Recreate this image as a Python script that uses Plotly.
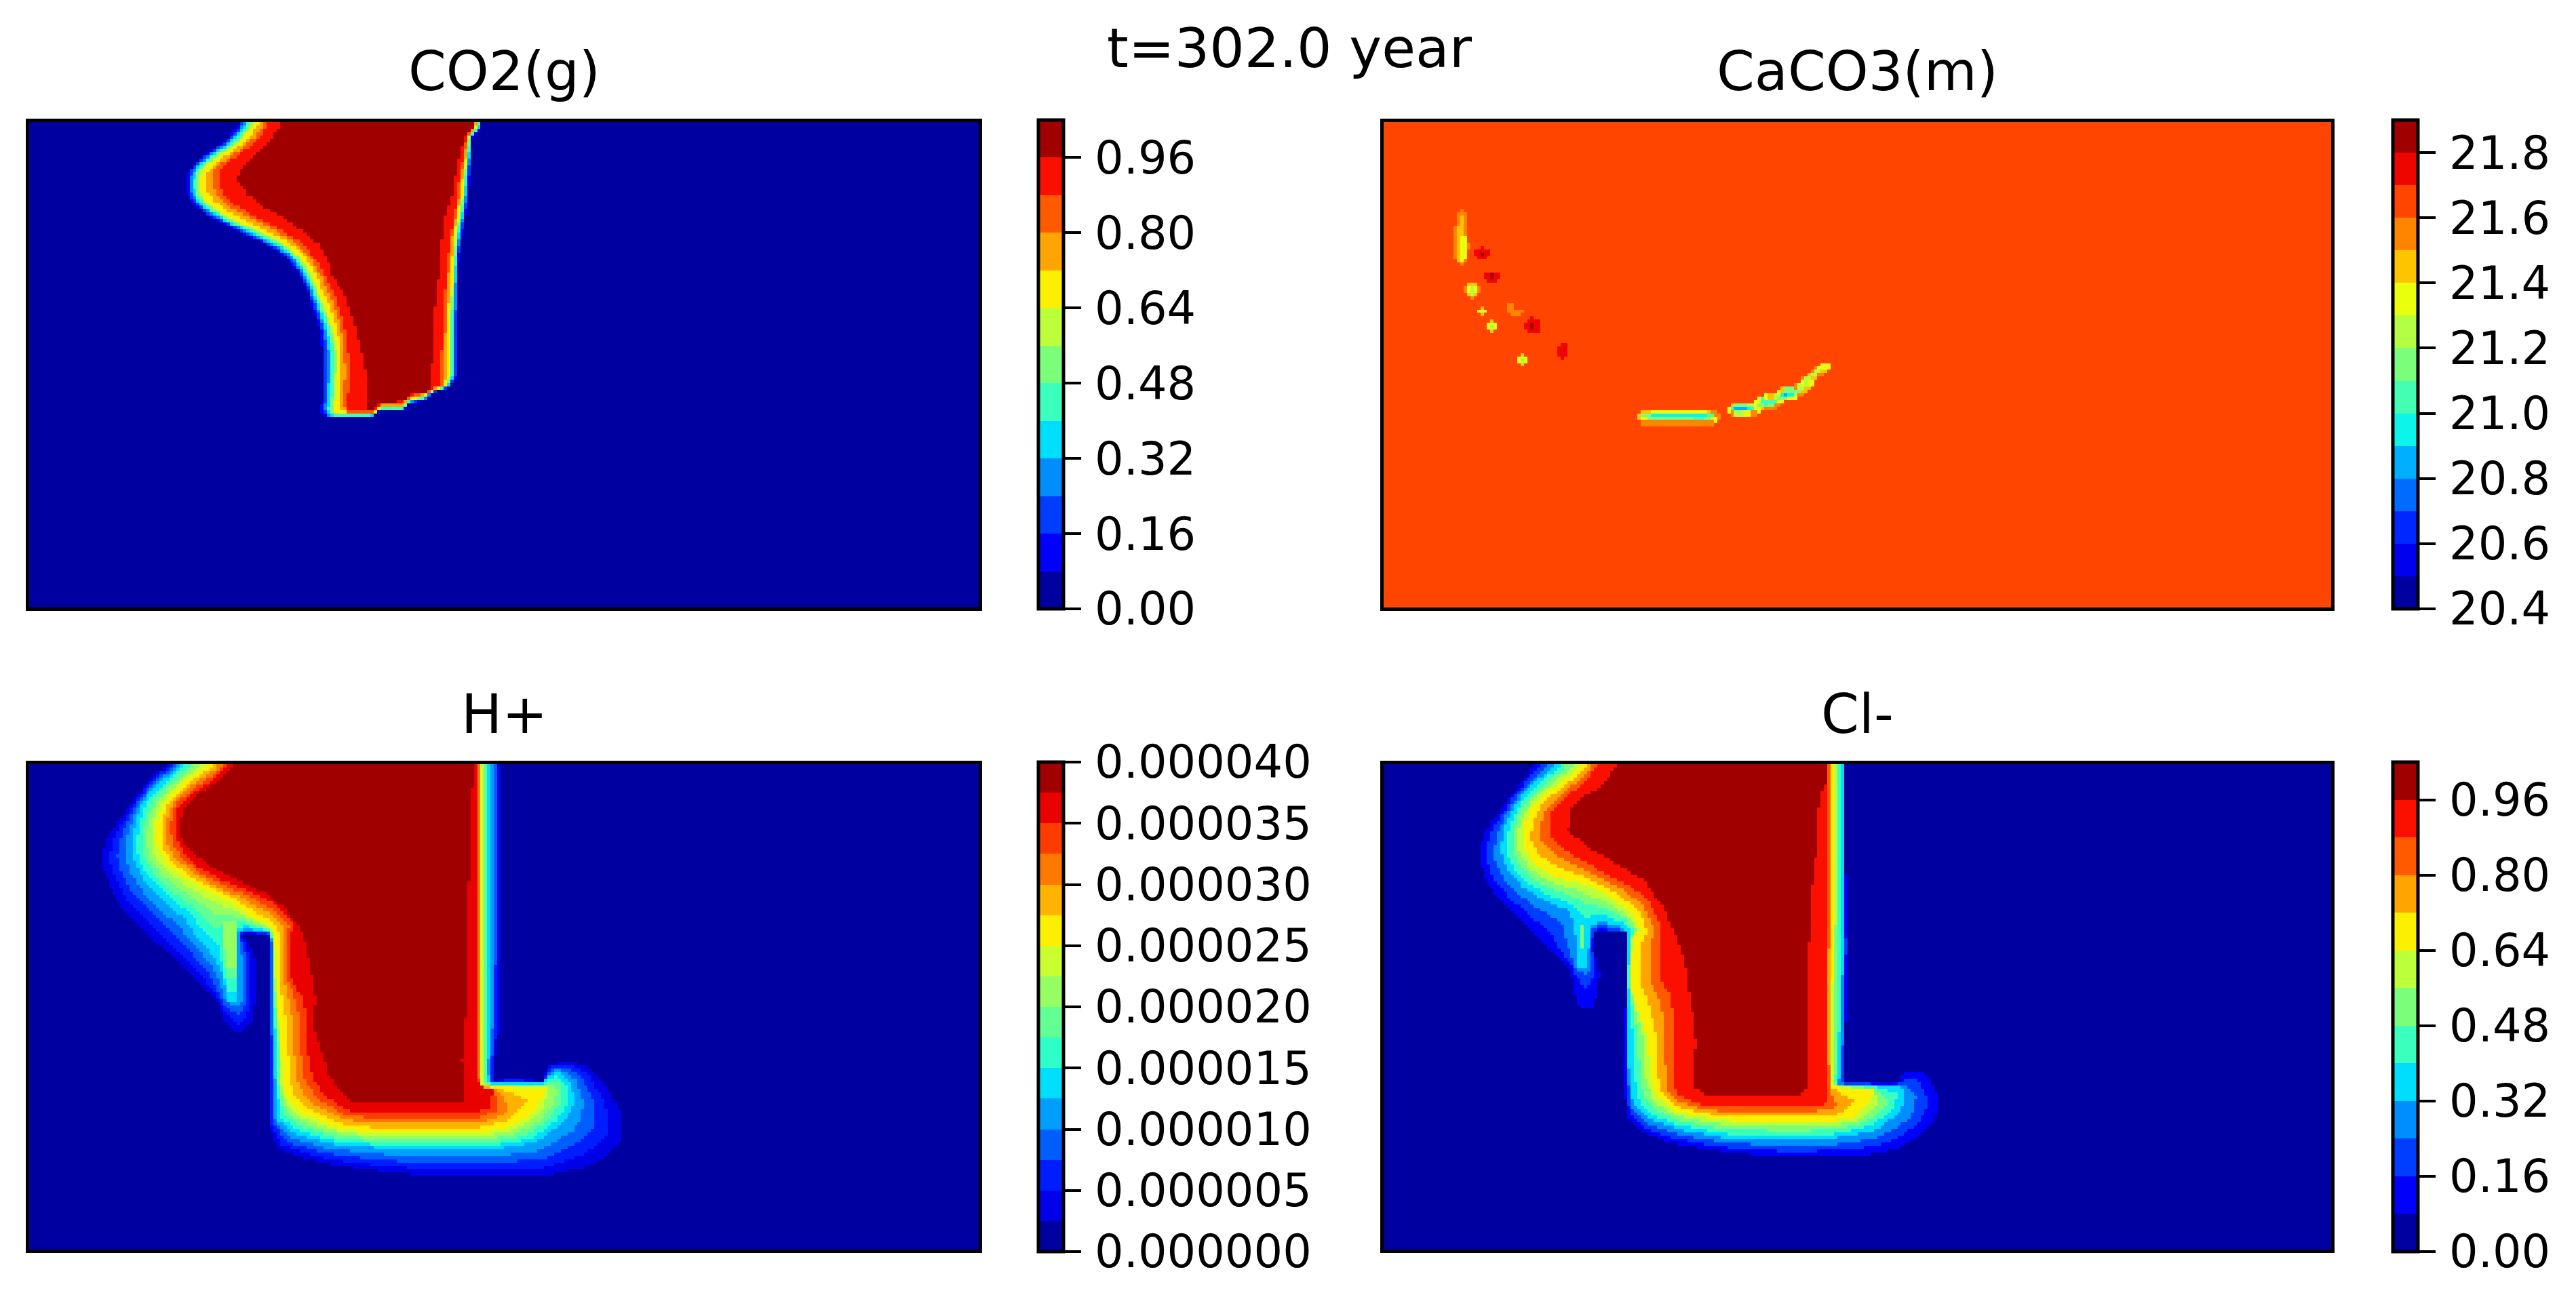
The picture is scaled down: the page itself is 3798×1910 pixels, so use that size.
import numpy as np
import plotly.graph_objects as go

FONT = "DejaVu Sans"
W, H = 3798, 1910

# ---- colorbar scales and tick labels
CO2_TICKS = [0.00, 0.16, 0.32, 0.48, 0.64, 0.80, 0.96]
CO2_LABELS = ["0.00", "0.16", "0.32", "0.48", "0.64", "0.80", "0.96"]
HP_TICKS = [0, 5e-6, 10e-6, 15e-6, 20e-6, 25e-6, 30e-6, 35e-6, 40e-6]
HP_LABELS = ["0.000000", "0.000005", "0.000010", "0.000015", "0.000020",
             "0.000025", "0.000030", "0.000035", "0.000040"]
CA_TICKS = [20.4, 20.6, 20.8, 21.0, 21.2, 21.4, 21.6, 21.8]
CA_LABELS = ["20.4", "20.6", "20.8", "21.0", "21.2", "21.4", "21.6", "21.8"]

# ---- CO2(g): contour outlines, per level
CO2_LEVELS = [0.08, 0.64, 0.88, 0.96]
CO2_L08 = [(555,40),(555,80),(525,130),(470,180),(438,220),(430,250),(430,290),(445,320),(480,360),(540,400),(610,440),(660,480),(690,530),(710,580),(725,640),(740,700),(745,760),(745,820),(745,900),(740,935),(755,958),(860,958),(870,945),(880,935),(935,935),(945,915),(985,905),(995,885),(1040,868),(1058,835),(1058,750),(1058,640),(1058,570),(1060,500),(1066,430),(1076,360),(1082,300),(1086,240),(1088,180),(1092,125),(1113,100),(1113,40)]
CO2_L64 = [(590,40),(590,80),(562,130),(508,180),(470,220),(462,250),(465,290),(480,320),(525,360),(595,400),(655,440),(695,480),(720,530),(735,580),(755,640),(770,700),(780,760),(780,820),(775,900),(770,935),(770,943),(865,943),(878,925),(930,925),(945,905),(985,890),(1000,878),(1030,862),(1038,835),(1040,750),(1040,640),(1045,570),(1048,500),(1052,430),(1060,360),(1068,300),(1072,240),(1080,180),(1082,125),(1103,90),(1103,40)]
CO2_L88 = [(622,40),(622,80),(600,130),(550,180),(505,220),(505,250),(515,290),(535,320),(590,360),(650,400),(700,440),(725,480),(750,530),(770,580),(785,640),(800,700),(805,760),(808,820),(805,900),(805,938),(860,938),(880,915),(930,912),(950,890),(985,885),(998,870),(1020,858),(1020,830),(1022,750),(1028,640),(1030,570),(1035,500),(1040,430),(1050,360),(1058,300),(1062,240),(1072,180),(1078,125),(1097,90),(1097,40)]
CO2_L96 = [(652,40),(652,80),(625,130),(590,180),(560,220),(545,245),(570,290),(600,325),(650,360),(695,400),(735,440),(755,480),(765,530),(795,590),(808,640),(825,700),(835,760),(845,820),(845,935),(862,935),(880,912),(935,908),(950,888),(985,880),(998,865),(998,830),(1000,750),(1005,640),(1012,570),(1018,500),(1022,430),(1030,360),(1045,300),(1052,240),(1062,180),(1075,125),(1095,90),(1095,40)]

# ---- H+ (values in units of 1e-6)
HP_LEVELS = [2.5, 12.5, 25, 35, 37.5]
HP_L025 = [(385,30),(385,75),(345,120),(320,160),(298,200),(270,250),(245,300),(238,340),(238,380),(250,420),(265,460),(280,500),(310,540),(360,600),(410,660),(460,720),(505,780),(515,830),(540,872),(560,870),(585,830),(590,780),(590,650),(575,605),(555,578),(622,578),(622,1150),(640,1215),(700,1240),(780,1265),(900,1285),(1010,1297),(1260,1297),(1350,1270),(1410,1230),(1437,1190),(1437,1110),(1400,1030),(1360,970),(1310,955),(1265,970),(1255,1015),(1180,1005),(1140,1015),(1148,900),(1160,860),(1160,600),(1160,30)]
HP_L125 = [(420,30),(420,75),(378,120),(345,160),(325,200),(312,250),(305,300),(305,340),(315,380),(335,420),(365,460),(395,500),(425,530),(445,570),(480,620),(510,680),(522,740),(525,775),(548,775),(550,700),(548,575),(570,562),(622,575),(630,600),(632,800),(635,1000),(640,1130),(680,1170),(760,1200),(900,1215),(1150,1215),(1240,1195),(1300,1140),(1328,1080),(1320,1020),(1290,985),(1265,1005),(1255,1022),(1135,1022),(1130,1000),(1132,500),(1132,30)]
HP_L250 = [(485,30),(485,75),(430,120),(400,160),(375,200),(362,250),(362,300),(370,340),(395,380),(440,420),(500,460),(555,500),(585,530),(620,548),(635,575),(636,700),(640,800),(650,900),(652,1020),(665,1070),(700,1110),(770,1150),(840,1165),(1100,1170),(1180,1150),(1230,1110),(1255,1060),(1265,1035),(1115,1030),(1112,1000),(1114,500),(1114,30)]
HP_L350 = [(530,30),(530,75),(495,120),(445,160),(412,200),(405,250),(408,300),(425,340),(460,380),(515,420),(595,460),(645,500),(680,550),(668,600),(670,700),(700,770),(712,850),(712,930),(722,1000),(745,1050),(800,1100),(850,1110),(1100,1110),(1135,1090),(1140,1040),(1108,1030),(1105,1000),(1103,500),(1103,30)]
HP_L375 = [(545,30),(545,75),(510,120),(460,160),(425,200),(415,250),(420,300),(450,340),(490,380),(550,420),(620,460),(655,500),(690,550),(705,600),(720,700),(730,770),(722,850),(745,930),(760,1000),(790,1050),(815,1080),(1075,1080),(1075,1020),(1068,950),(1078,800),(1078,520),(1085,400),(1085,210),(1092,140),(1098,30)]
HP_RIDGE = [(16, [(505,620),(545,575),(548,745),(525,745)]),
            (19, [(512,580),(548,560),(548,710),(522,710)]),
            (21, [(516,545),(548,545),(548,680),(522,680)])]

# ---- Cl-
CL_LEVELS = [0.08, 0.32, 0.64, 0.88, 0.96]
CL_L08 = [(415,30),(415,75),(385,120),(355,170),(330,220),(300,270),(285,320),(285,365),(300,420),(325,465),(360,515),(400,565),(450,630),(495,680),(503,740),(510,780),(525,803),(545,800),(553,770),(562,700),(555,660),(548,620),(548,575),(625,575),(622,800),(622,1070),(630,1130),(660,1165),(720,1195),(800,1215),(885,1228),(980,1238),(1160,1238),(1250,1215),(1310,1170),(1335,1130),(1347,1090),(1335,1030),(1310,990),(1270,985),(1250,1022),(1130,1018),(1130,900),(1135,620),(1130,350),(1130,30)]
CL_L32 = [(460,30),(460,75),(415,125),(380,170),(352,230),(338,280),(335,340),(350,390),(385,440),(440,480),(490,510),(505,545),(510,675),(535,675),(540,560),(560,540),(610,555),(628,575),(628,800),(630,1000),(640,1085),(680,1130),(750,1160),(860,1185),(1010,1190),(1100,1185),(1200,1160),(1255,1110),(1270,1060),(1258,1030),(1115,1025),(1122,860),(1125,500),(1125,30)]
CL_L64 = [(525,30),(525,75),(480,120),(430,170),(395,225),(385,270),(385,320),(410,370),(460,410),(530,430),(590,470),(640,520),(655,570),(640,590),(632,720),(650,800),(672,880),(680,1000),(695,1060),(740,1105),(800,1120),(880,1135),(1100,1135),(1155,1120),(1190,1075),(1195,1040),(1100,1030),(1098,880),(1103,500),(1103,30)]
CL_L88 = [(560,30),(560,75),(525,130),(480,175),(447,220),(447,290),(490,335),(550,380),(610,420),(670,470),(700,540),(700,700),(725,760),(735,830),(732,1030),(750,1060),(790,1080),(830,1090),(1040,1090),(1090,1080),(1092,1030),(1088,950),(1088,500),(1092,30)]
CL_L96 = [(608,30),(600,85),(565,140),(520,175),(495,210),(490,270),(540,325),(610,375),(665,420),(705,490),(735,570),(760,670),(775,800),(785,900),(778,1030),(815,1060),(1022,1060),(1040,1040),(1040,750),(1048,560),(1055,410),(1065,320),(1070,180),(1085,130),(1090,30)]
CL_RIDGE = [(0.50, [(515,550),(527,550),(527,620),(517,620)])]

# ---- CaCO3(m): background plus small cell blocks (value, x0, x1, y0, y1)
CA_BACK = 21.65
DKRED, RED, ORANGE, AMBER, YELLOW, LIME, GREEN, AQUA, CYAN, SKY = 21.85, 21.75, 21.55, 21.45, 21.35, 21.25, 21.15, 21.05, 20.95, 20.85
CA_BLOCKS = [
    (ORANGE,218,250,127,347),(ORANGE,228,240,112,362),(ORANGE,207,250,185,333),(ORANGE,250,262,260,288),
    (AMBER,228,240,142,232),(AMBER,218,240,185,347),(YELLOW,228,250,232,333),(YELLOW,228,240,333,347),
    (RED,273,328,288,318),(RED,284,317,318,333),(RED,295,306,274,288),(DKRED,295,306,303,318),
    (RED,317,350,392,436),(RED,306,361,406,421),(DKRED,328,339,406,421),
    (ORANGE,240,295,451,480),(AMBER,251,284,436,495),(ORANGE,262,273,495,510),(YELLOW,251,284,451,480),(LIME,262,273,451,495),
    (AMBER,295,306,540,584),(YELLOW,284,317,555,569),(LIME,295,306,555,569),
    (AMBER,328,339,612,656),(YELLOW,317,350,627,641),(LIME,328,339,627,641),
    (ORANGE,383,405,525,570),(ORANGE,394,438,555,570),(ORANGE,394,427,570,584),
    (RED,449,493,612,656),(RED,438,493,627,641),(RED,460,471,598,612),(DKRED,460,471,627,641),
    (RED,559,581,716,760),(RED,548,581,731,760),(RED,559,570,760,775),
    (AMBER,427,438,760,804),(YELLOW,416,449,775,789),(LIME,427,438,775,789),
    (AMBER,833,866,1010,1025),(YELLOW,866,1044,1010,1025),(AMBER,1044,1064,1010,1025),(ORANGE,1064,1075,1010,1025),
    (AMBER,822,833,1025,1040),(GREEN,833,866,1025,1040),(CYAN,866,1044,1025,1040),(AQUA,1044,1075,1025,1040),(ORANGE,1075,1086,1025,1040),
    (YELLOW,833,845,1040,1055),(GREEN,845,1010,1040,1055),(AQUA,1010,1033,1040,1055),(GREEN,1033,1064,1040,1055),(YELLOW,1064,1075,1040,1055),
    (ORANGE,833,1064,1055,1070),
    (AMBER,1130,1141,981,996),(GREEN,1141,1185,981,996),(LIME,1185,1207,981,996),(GREEN,1207,1229,981,996),(AMBER,1229,1240,981,996),(ORANGE,1240,1273,981,996),
    (YELLOW,1120,1130,996,1010),(AQUA,1130,1141,996,1010),(SKY,1141,1185,996,1010),(CYAN,1185,1196,996,1010),(AQUA,1196,1207,996,1010),(YELLOW,1207,1218,996,1010),
    (ORANGE,1130,1141,1010,1025),(LIME,1141,1174,1010,1025),(YELLOW,1174,1196,1010,1025),(ORANGE,1196,1207,1010,1025),
    (YELLOW,1207,1218,966,981),(GREEN,1218,1240,966,981),(AQUA,1240,1251,966,981),(GREEN,1251,1273,966,981),(ORANGE,1273,1284,966,981),
    (YELLOW,1218,1229,951,966),(AQUA,1229,1284,951,966),(YELLOW,1284,1295,951,966),
    (YELLOW,1240,1251,936,951),(AMBER,1251,1273,936,951),(LIME,1273,1284,936,951),(GREEN,1284,1317,936,951),(YELLOW,1317,1339,936,951),
    (YELLOW,1284,1295,921,936),(CYAN,1295,1306,921,936),(SKY,1306,1317,921,936),(CYAN,1317,1339,921,936),(LIME,1339,1350,921,936),(ORANGE,1350,1361,921,936),
    (AMBER,1295,1306,906,921),(GREEN,1306,1361,906,921),(AMBER,1361,1372,906,921),
    (ORANGE,1339,1350,891,906),(LIME,1350,1372,891,906),(AMBER,1372,1383,891,906),
    (YELLOW,1361,1372,876,891),(LIME,1372,1383,876,891),(YELLOW,1383,1394,876,891),
    (ORANGE,1361,1372,861,876),(LIME,1372,1394,861,876),(AMBER,1394,1405,861,876),
    (AMBER,1383,1394,846,861),(LIME,1394,1416,846,861),(ORANGE,1416,1427,846,861),
    (ORANGE,1394,1405,831,846),(LIME,1405,1427,831,846),(AMBER,1427,1438,831,846),
    (ORANGE,1405,1416,818,831),(YELLOW,1416,1427,818,831),(LIME,1427,1438,818,831),(YELLOW,1438,1449,818,831),
    (YELLOW,1427,1449,804,818),
]


def jet(t):
    r = np.interp(t, [0, .35, .66, .89, 1], [0, 0, 1, 1, .5])
    g = np.interp(t, [0, .125, .375, .64, .91, 1], [0, 0, 1, 1, 0, 0])
    b = np.interp(t, [0, .11, .34, .65, 1], [.5, 1, 1, 0, 0])
    return "rgb(%d,%d,%d)" % (round(r * 255), round(g * 255), round(b * 255))


def bands(n):
    out = []
    for i in range(n):
        c = jet(.028 + .944 * i / (n - 1))
        out += [[i / n, c], [(i + 1) / n, c]]
    return out


def inside(X, Y, poly):
    p = np.asarray(poly, float)
    res = np.zeros(X.shape, bool)
    for (x1, y1), (x2, y2) in zip(p, np.roll(p, -1, axis=0)):
        if y1 == y2:
            continue
        c = ((y1 > Y) != (y2 > Y)) & (X < (x2 - x1) * (Y - y1) / (y2 - y1) + x1)
        res ^= c
    return res


def dist(X, Y, poly, sx, sy):
    p = np.asarray(poly, float)
    best = np.full(X.shape, np.inf)
    for (x1, y1), (x2, y2) in zip(p, np.roll(p, -1, axis=0)):
        ax, ay, bx, by = x1 * sx, y1 * sy, x2 * sx, y2 * sy
        dx, dy = bx - ax, by - ay
        L = dx * dx + dy * dy
        if L == 0:
            continue
        t = np.clip(((X * sx - ax) * dx + (Y * sy - ay) * dy) / L, 0, 1)
        d = np.hypot(X * sx - ax - t * dx, Y * sy - ay - t * dy)
        best = np.minimum(best, d)
    return best


def field(xs, ys, levels, polys, top, ridge=(), sx=.638, sy=.497):
    X, Y = np.meshgrid(xs, ys)
    Z = np.zeros(X.shape)
    ins = [inside(X, Y, p) for p in polys]
    ds = [dist(X, Y, p, sx, sy) for p in polys]
    for k in range(len(levels)):
        if k + 1 < len(levels):
            m = ins[k] & ~ins[k + 1]
            w = ds[k] / (ds[k] + ds[k + 1] + 1e-9)
            Z[m] = (levels[k] + (levels[k + 1] - levels[k]) * w)[m]
        else:
            Z[ins[k]] = top
    for val, poly in ridge:
        m = inside(X, Y, poly)
        Z[m] = np.maximum(Z[m], val)
    return Z


# panel-local coordinate windows (x0, x1, y_top, y_bottom)
WIN_CO2 = (67, 2263, 80, 1520)
WIN_HP = (67, 2263, 74, 1514)
WIN_CL = (63, 2253, 74, 1514)
WIN_CA = (-22, 3107, -270, 1878)
NX, NY = 284, 145


def grid(win):
    x0, x1, yt, yb = win
    xs = x0 + (np.arange(NX) + .5) * (x1 - x0) / NX
    ys = yt + (np.arange(NY) + .5) * (yb - yt) / NY
    return xs, ys


xs, ys = grid(WIN_CO2)
Z_CO2 = field(xs, ys, CO2_LEVELS, [CO2_L08, CO2_L64, CO2_L88, CO2_L96], 1.0)
xh, yh = grid(WIN_HP)
Z_HP = field(xh, yh, HP_LEVELS, [HP_L025, HP_L125, HP_L250, HP_L350, HP_L375], 39.0, HP_RIDGE) * 1e-6
xl, yl = grid(WIN_CL)
Z_CL = field(xl, yl, CL_LEVELS, [CL_L08, CL_L32, CL_L64, CL_L88, CL_L96], 1.0, CL_RIDGE)
xc, yc = grid(WIN_CA)
Z_CA = np.full((NY, NX), CA_BACK)
XC, YC = np.meshgrid(xc, yc)
for v, a, b, c, d in CA_BLOCKS:
    Z_CA[(XC >= a - 2) & (XC < b + 2) & (YC >= c - 2) & (YC < d + 2)] = v

# pixel boxes of panels (inner plot area): left, right, top, bottom
BOX_L = (43, 1443)
BOX_R = (2040, 3437)
BOX_T = (180, 896)
BOX_B = (1127, 1843)
CB_BOX_T = (177, 898)
CB_BOX_B = (1124, 1846)
CB_L = 1531
CB_R = 3528
CB_W = 37
TICK_FS = 67
TITLE_FS = 80
LABEL_GAP = "\u200a"

PANELS = [
    ("CO2(g)", xs, ys, Z_CO2, WIN_CO2, BOX_L, BOX_T, CB_BOX_T, CB_L, 0, 1.04, 13, CO2_TICKS, CO2_LABELS),
    ("CaCO3(m)", xc, yc, Z_CA, WIN_CA, BOX_R, BOX_T, CB_BOX_T, CB_R, 20.4, 21.9, 15, CA_TICKS, CA_LABELS),
    ("H+", xh, yh, Z_HP, WIN_HP, BOX_L, BOX_B, CB_BOX_B, CB_L, 0, 40e-6, 16, HP_TICKS, HP_LABELS),
    ("Cl-", xl, yl, Z_CL, WIN_CL, BOX_R, BOX_B, CB_BOX_B, CB_R, 0, 1.04, 13, CO2_TICKS, CO2_LABELS),
]

fig = go.Figure()
layout = dict(width=W, height=H, margin=dict(l=0, r=0, t=0, b=0), paper_bgcolor="white",
              plot_bgcolor="white", showlegend=False, font=dict(family=FONT, color="black"))
ann = [dict(text="t=302.0 year", x=1901 / W, y=1 - 71 / H, xref="paper", yref="paper", showarrow=False,
            xanchor="center", yanchor="middle", font=dict(size=TITLE_FS + 1, family=FONT, color="black"))]
for i, (title, x, y, z, win, bx, by, cby, cbx, zmin, zmax, n, tv, tt) in enumerate(PANELS):
    s = "" if i == 0 else str(i + 1)
    fig.add_trace(go.Heatmap(
        x=x, y=y, z=z, xaxis="x" + s, yaxis="y" + s, zmin=zmin, zmax=zmax, colorscale=bands(n),
        hoverinfo="skip",
        colorbar=dict(x=cbx / W, xanchor="left", xpad=0, ypad=0, y=1 - cby[1] / H, yanchor="bottom",
                      len=(cby[1] - cby[0]) / H, lenmode="fraction", thickness=CB_W, thicknessmode="pixels",
                      outlinewidth=5, outlinecolor="black", borderwidth=0, tickmode="array", tickvals=tv,
                      ticktext=[LABEL_GAP + t for t in tt], ticks="outside", ticklen=24, tickwidth=4,
                      tickcolor="black", tickfont=dict(size=TICK_FS, family=FONT, color="black"))))
    layout["xaxis" + s] = dict(domain=[bx[0] / W, bx[1] / W], range=[win[0], win[1]], showticklabels=False,
                               ticks="", showgrid=False, zeroline=False, showline=True, linecolor="black",
                               linewidth=5, mirror=True, anchor="y" + s)
    layout["yaxis" + s] = dict(domain=[1 - by[1] / H, 1 - by[0] / H], range=[win[3], win[2]], showticklabels=False,
                               ticks="", showgrid=False, zeroline=False, showline=True, linecolor="black",
                               linewidth=5, mirror=True, anchor="x" + s)
    ann.append(dict(text=title, x=(bx[0] + bx[1]) / 2 / W, y=1 - (by[0] - 74) / H, xref="paper", yref="paper",
                    showarrow=False, xanchor="center", yanchor="middle",
                    font=dict(size=TITLE_FS, family=FONT, color="black")))
layout["annotations"] = ann
fig.update_layout(**layout)
fig.write_html("out.html", post_script="document.body.style.margin='0';", config={"displayModeBar": False})
